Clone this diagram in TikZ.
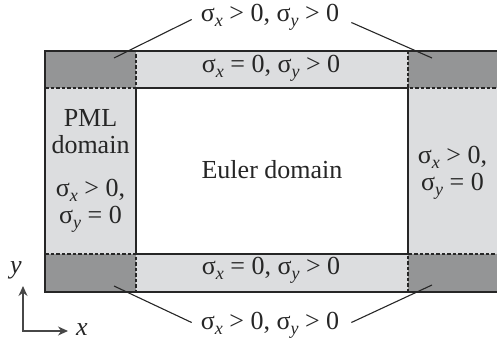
\documentclass[tikz,border=0pt]{standalone}
\usepackage{fontspec}
\setmainfont{Liberation Serif}
\usetikzlibrary{arrows.meta,positioning,calc}
\definecolor{pmlDark}{HTML}{949596}
\definecolor{pmlLight}{HTML}{DCDDDF}
\definecolor{pmlLine}{HTML}{262626}
\newcommand{\lowsub}[1]{\raisebox{-0.42ex}{\fontsize{18}{18}\selectfont\itshape #1}}
\newcommand{\sig}[1]{σ\lowsub{#1}}
\tikzset{
  wall/.style={pmlLine, line width=1.3pt},
  seam/.style={pmlLine, line width=1.2pt, dash pattern=on 3.5pt off 2pt},
  leader/.style={pmlLine, line width=1.1pt},
  lbl/.style={font=\fontsize{26}{27}\selectfont, text=pmlLine, inner sep=0pt, align=center},
  axisline/.style={{Stealth[length=10pt, width=9pt]}-{Stealth[length=10pt, width=9pt]}, line width=1.2pt, pmlLine!85}
}
\begin{document}
\begin{tikzpicture}[x=1pt, y=-1pt]
  \useasboundingbox (0,0) rectangle (497,347);
  % absorbing layer and corners
  \fill[pmlLight] (45,51) rectangle (497,292);
  \fill[white] (136,88) rectangle (408,254);
  \foreach \xa/\xb in {45/136,408/497}{
    \fill[pmlDark] (\xa,51) rectangle (\xb,88);
    \fill[pmlDark] (\xa,254) rectangle (\xb,292);
  }
  % walls
  \draw[wall] (497,51) -- (45,51) -- (45,292) -- (497,292);
  \draw[wall] (136,88) rectangle (408,254);
  \draw[seam] (45,88) -- (136,88) -- (136,51);
  \draw[seam] (408,51) -- (408,88) -- (497,88);
  \draw[seam] (45,254) -- (136,254) -- (136,292);
  \draw[seam] (408,292) -- (408,254) -- (497,254);

  % texts
  \node[lbl] (euler) at (272,170) {Euler domain};
  \node[lbl] (topband) at (271,68.5) {\sig{x} = 0, \sig{y} > 0};
  \node[lbl] (botband) at (271,270.5) {\sig{x} = 0, \sig{y} > 0};
  \node[lbl] (pml) at (90.5,132) {PML\\domain};
  \node[lbl] (pmlsig) at (90.5,205.5) {\sig{x} > 0,\\\sig{y} = 0};
  \node[lbl] (rightsig) at (452.5,173) {\sig{x} > 0,\\\sig{y} = 0};
  \node[lbl] (toplab) at (270,17.5) {\sig{x} > 0, \sig{y} > 0};
  \node[lbl] (botlab) at (270,325.5) {\sig{x} > 0, \sig{y} > 0};

  % leaders to the corners
  \coordinate (nw) at (114,58);
  \coordinate (ne) at (432,58);
  \coordinate (sw) at (114,286);
  \coordinate (se) at (432,285);
  \draw[leader] (nw) -- ([xshift=-9pt,yshift=-2pt]toplab.west);
  \draw[leader] (ne) -- ([xshift=12pt,yshift=-5pt]toplab.east);
  \draw[leader] (sw) -- ([xshift=-9pt,yshift=3pt]botlab.west);
  \draw[leader] (se) -- ([xshift=12pt,yshift=3pt]botlab.east);

  % axes
  \coordinate (org) at (23,331);
  \coordinate (yend) at (23,286);
  \coordinate (xend) at (68,331);
  \draw[axisline] (yend) -- (org) -- (xend);
  \node[lbl, font=\fontsize{26}{27}\selectfont\itshape] (ylab) at (16,270) {y};
  \node[lbl, font=\fontsize{26}{27}\selectfont\itshape] (xlab) at (82,330) {x};
\end{tikzpicture}
\end{document}
